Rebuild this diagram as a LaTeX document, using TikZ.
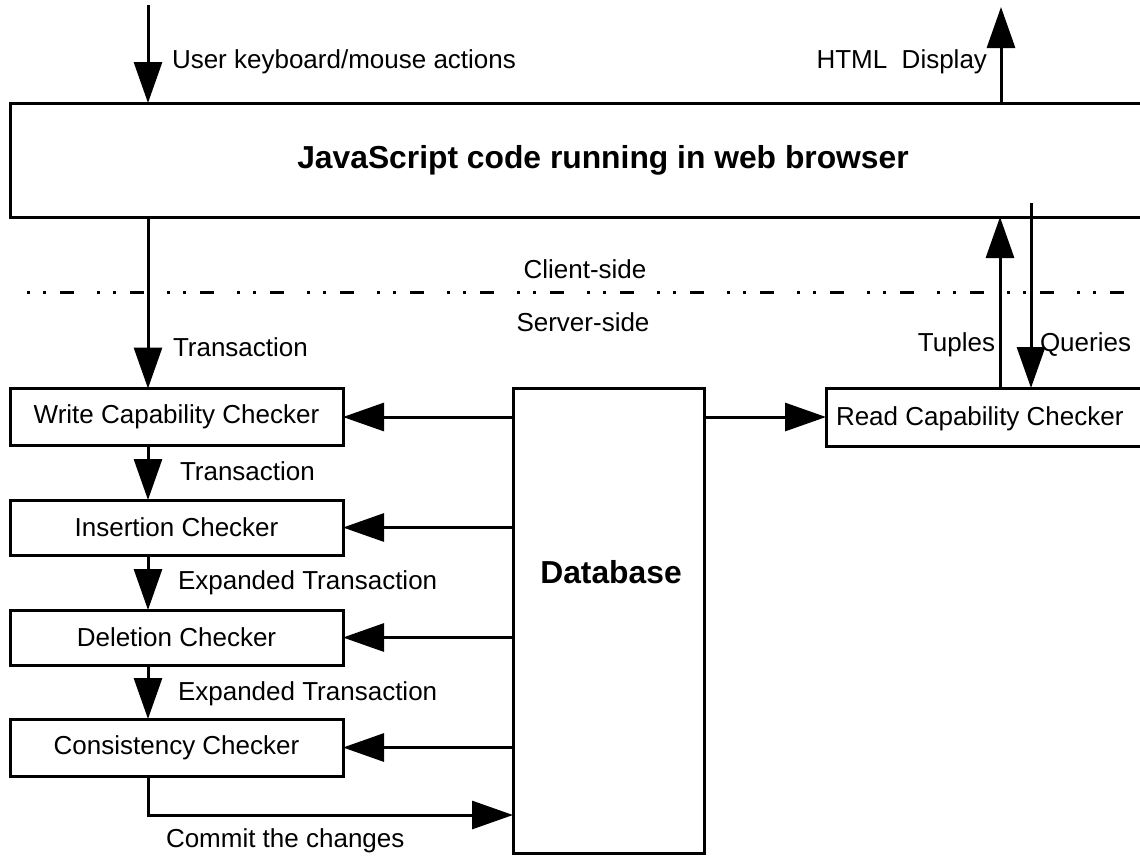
\documentclass[tikz,border=0pt]{standalone}
\usepackage{fontspec}
\setmainfont{Liberation Sans}
\usetikzlibrary{arrows.meta}
\tikzset{
  box/.style={draw, line width=3pt, rectangle, inner sep=0pt, outer sep=0pt},
  lbl/.style={inner sep=0pt, outer sep=0pt, font=\fontsize{26}{30}\selectfont},
  ttl/.style={inner sep=0pt, outer sep=0pt, font=\fontsize{31.8}{36}\selectfont\bfseries},
  arr/.style={line width=3pt, -{Triangle[length=41pt,width=28pt]}},
  ln/.style={line width=3pt},
  sep/.style={line width=3pt, dash pattern=on 3pt off 13pt on 3pt off 14pt on 14pt off 23pt}
}
\begin{document}
\begin{tikzpicture}[x=1pt,y=-1pt]
\useasboundingbox (0,0) rectangle (1140,855);
\clip (0,0) rectangle (1140,855);
\fill[white] (0,0) rectangle (1140,855);
% boxes
\node[box, minimum width=1140pt, minimum height=114pt] (js) at (580,160) {};
\node[ttl] (title) at (603,160) {JavaScript code running in web browser};
\node[box, minimum width=333pt, minimum height=57pt, lbl] (write) at (176.5,417) {Write Capability Checker};
\node[box, minimum width=333pt, minimum height=55pt, lbl] (ins) at (176.5,527.5) {Insertion Checker};
\node[box, minimum width=333pt, minimum height=55pt, lbl] (del) at (176.5,637.5) {Deletion Checker};
\node[box, minimum width=333pt, minimum height=57pt, lbl] (cons) at (176.5,747.5) {Consistency Checker};
\node[box, minimum width=191pt, minimum height=465pt] (db) at (608.5,620.5) {};
\node[ttl] (dbt) at (611,572) {Database};
\node[box, minimum width=324pt, minimum height=58pt] (read) at (988,417) {};
\node[lbl, anchor=west] (readt) at (836,419) {Read Capability Checker};
% coordinates
\coordinate (in1) at (148,5);
\coordinate (out1) at (1001,7);
\coordinate (tq) at (1000,0);
\coordinate (qs) at (1031,203);
\coordinate (cm) at (148,815);
\coordinate (dl) at (27,292);
\coordinate (dr) at (1145,292);
% separator
\draw[sep] (dl) -- (dr);
% arrows
\draw[arr] (in1) -- (in1 |- js.north);
\draw[arr] (out1 |- js.north) -- (out1);
\draw[arr] (in1 |- js.south) -- (in1 |- write.north);
\draw[arr] (in1 |- write.south) -- (in1 |- ins.north);
\draw[arr] (in1 |- ins.south) -- (in1 |- del.north);
\draw[arr] (in1 |- del.south) -- (in1 |- cons.north);
\draw[arr] (db.west |- write.east) -- (write.east);
\draw[arr] (db.west |- ins.east) -- (ins.east);
\draw[arr] (db.west |- del.east) -- (del.east);
\draw[arr] (db.west |- cons.east) -- (cons.east);
\draw[arr] (in1 |- cons.south) -- (cm) -- (cm -| db.west);
\draw[arr] (db.east |- read.west) -- (read.west);
\draw[arr] (tq |- read.north) -- (tq |- js.south);
\draw[arr] (qs) -- (qs |- read.north);
% labels
\node[lbl, anchor=base west] (l1) at (172,68) {User keyboard/mouse actions};
\node[lbl, anchor=base east] (l2) at (987,68) {HTML\ \ Display};
\node[lbl, anchor=base] (l3) at (585,278) {Client-side};
\node[lbl, anchor=base] (l4) at (583,331) {Server-side};
\node[lbl, anchor=base west] (l5) at (173,356) {Transaction};
\node[lbl, anchor=base east] (l6) at (995,351) {Tuples};
\node[lbl, anchor=base west] (l7) at (1040,351) {Queries};
\node[lbl, anchor=base west] (l8) at (180,480) {Transaction};
\node[lbl, anchor=base west] (l9) at (178,589) {Expanded Transaction};
\node[lbl, anchor=base west] (l10) at (178,700) {Expanded Transaction};
\node[lbl, anchor=base west] (l11) at (166,847) {Commit the changes};
\end{tikzpicture}
\end{document}
